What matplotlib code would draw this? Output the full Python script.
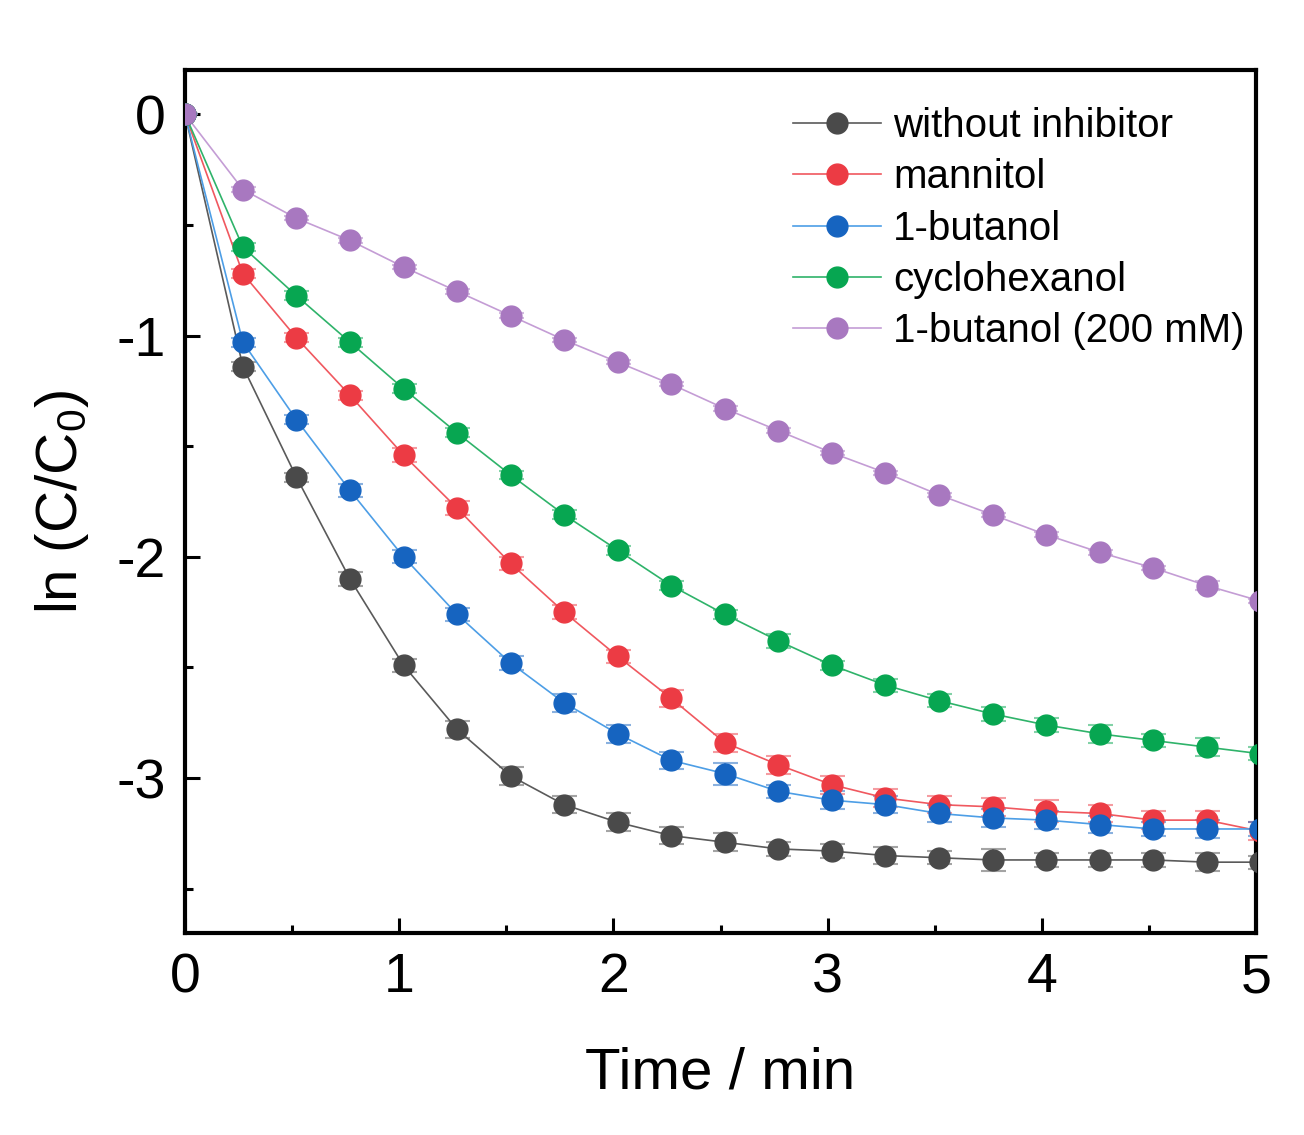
import numpy as np
import matplotlib
matplotlib.use("Agg")
import matplotlib.pyplot as plt
from matplotlib.ticker import MultipleLocator

plt.rcParams['font.family'] = ['Liberation Sans', 'DejaVu Sans']
plt.rcParams['mathtext.default'] = 'regular'

# === Data ===
time_min = [0, 0.27, 0.52, 0.77, 1.02, 1.27, 1.52, 1.77, 2.02, 2.27, 2.52,
            2.77, 3.02, 3.27, 3.52, 3.77, 4.02, 4.27, 4.52, 4.77, 5.02]

without_inhibitor = [0, -1.14, -1.64, -2.10, -2.49, -2.78, -2.99, -3.12, -3.20, -3.26, -3.29,
                     -3.32, -3.33, -3.35, -3.36, -3.37, -3.37, -3.37, -3.37, -3.38, -3.38]
mannitol = [0, -0.72, -1.01, -1.27, -1.54, -1.78, -2.03, -2.25, -2.45, -2.64, -2.84,
            -2.94, -3.03, -3.09, -3.12, -3.13, -3.15, -3.16, -3.19, -3.19, -3.24]
butanol = [0, -1.03, -1.38, -1.70, -2.00, -2.26, -2.48, -2.66, -2.80, -2.92, -2.98,
           -3.06, -3.10, -3.12, -3.16, -3.18, -3.19, -3.21, -3.23, -3.23, -3.23]
cyclohexanol = [0, -0.60, -0.82, -1.03, -1.24, -1.44, -1.63, -1.81, -1.97, -2.13, -2.26,
                -2.38, -2.49, -2.58, -2.65, -2.71, -2.76, -2.80, -2.83, -2.86, -2.89]
butanol_200 = [0, -0.34, -0.47, -0.57, -0.69, -0.80, -0.91, -1.02, -1.12, -1.22, -1.33,
               -1.43, -1.53, -1.62, -1.72, -1.81, -1.90, -1.98, -2.05, -2.13, -2.20]

err_without = [0, 0.02, 0.02, 0.03, 0.03, 0.04, 0.04, 0.04, 0.04, 0.04, 0.04,
               0.03, 0.03, 0.04, 0.03, 0.05, 0.03, 0.03, 0.03, 0.04, 0.03]
err_mannitol = [0, 0.02, 0.02, 0.02, 0.03, 0.03, 0.03, 0.03, 0.03, 0.04, 0.04,
                0.04, 0.04, 0.04, 0.04, 0.04, 0.05, 0.04, 0.04, 0.04, 0.04]
err_butanol = [0, 0.02, 0.02, 0.03, 0.03, 0.03, 0.03, 0.04, 0.04, 0.04, 0.05,
               0.03, 0.04, 0.04, 0.04, 0.04, 0.04, 0.04, 0.03, 0.04, 0.03]
err_cyclo = [0, 0.02, 0.02, 0.02, 0.02, 0.02, 0.02, 0.02, 0.02, 0.02, 0.02,
             0.03, 0.02, 0.03, 0.03, 0.03, 0.03, 0.04, 0.03, 0.04, 0.03]
err_butanol_200 = [0, 0.01, 0.01, 0.01, 0.01, 0.01, 0.01, 0.01, 0.01, 0.01, 0.01,
                   0.01, 0.01, 0.01, 0.01, 0.01, 0.01, 0.01, 0.01, 0.02, 0.01]

series = [
    ("without inhibitor", without_inhibitor, err_without, "#4a4a4a", "#5a5a5a"),
    ("mannitol", mannitol, err_mannitol, "#ec3b44", "#f0585f"),
    ("1-butanol", butanol, err_butanol, "#1664c0", "#4d9ee6"),
    ("cyclohexanol", cyclohexanol, err_cyclo, "#07a651", "#2fb36a"),
    ("1-butanol (200 mM)", butanol_200, err_butanol_200, "#a878c0", "#c49dd5"),
]

# === Plot ===
fig = plt.figure(figsize=(13.04, 11.35), dpi=100)
ax = fig.add_axes([0.1419, 0.178, 0.8213, 0.7603])

for name, vals, err, mcolor, lcolor in series:
    ax.errorbar(time_min, vals, yerr=err, fmt='none', ecolor=mcolor, alpha=0.5,
                elinewidth=1.5, capsize=9, capthick=1.5, zorder=2)
    ax.plot(time_min, vals, '-', color=lcolor, lw=1.2, zorder=3)
    ax.plot(time_min, vals, 'o', color=mcolor, ms=15, zorder=4)
    ax.plot([], [], '-o', color=lcolor, mfc=mcolor, mec=mcolor, ms=15, lw=1.2, label=name)

ax.set_xlim(0, 5)
ax.set_ylim(-3.7, 0.2)
ax.xaxis.set_major_locator(MultipleLocator(1))
ax.xaxis.set_minor_locator(MultipleLocator(0.5))
ax.yaxis.set_major_locator(MultipleLocator(1))
ax.yaxis.set_minor_locator(MultipleLocator(0.5))
ax.set_yticks([0, -1, -2, -3])
ax.set_yticklabels(['0', '-1', '-2', '-3'])

ax.tick_params(which='major', direction='in', length=11, width=2.2, labelsize=40, pad=14)
ax.tick_params(which='minor', direction='in', length=6, width=2.2)
for side in ['top', 'right', 'bottom', 'left']:
    ax.spines[side].set_linewidth(3)

ax.set_xlabel("Time / min", fontsize=42, labelpad=30)
ax.set_ylabel("ln (C/C$_0$)", fontsize=42, labelpad=18)

ax.legend(loc='upper right', frameon=False, fontsize=29, handlelength=2.2,
          handletextpad=0.3, labelspacing=0.33, borderaxespad=0.2,
          bbox_to_anchor=(1.012, 0.985))

fig.savefig("out.png", dpi=100)
